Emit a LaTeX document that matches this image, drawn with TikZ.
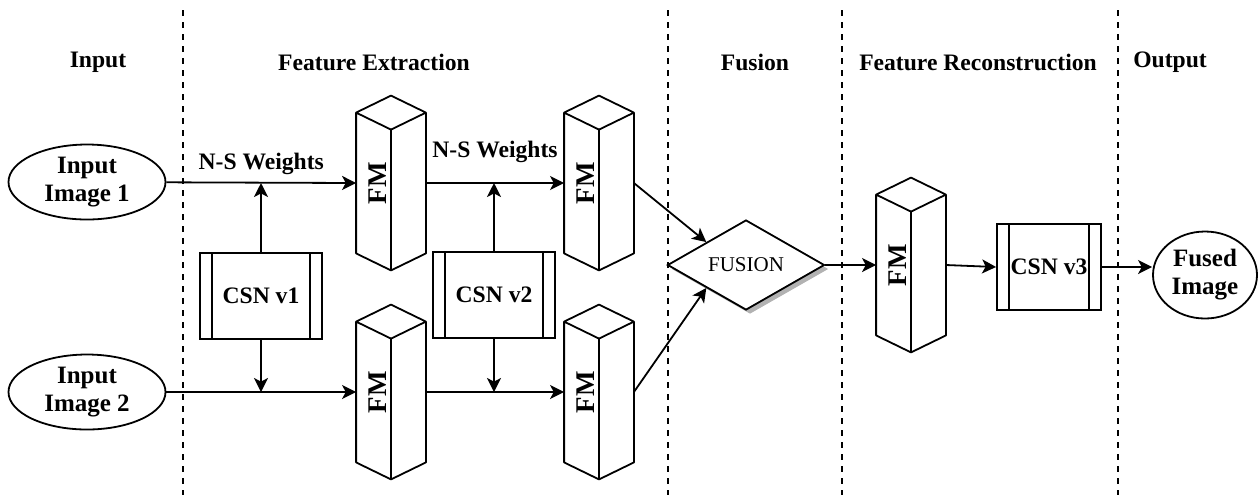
\documentclass[tikz,border=0pt]{standalone}
\usepackage{fontspec}
\setmainfont{Liberation Serif}
\usetikzlibrary{positioning,calc,arrows.meta,shapes.geometric,shadows}
\tikzset{
	line/.style={draw=black,line width=0.9pt},
	arr/.style={line,-{Stealth[length=7pt,width=7pt,inset=1.8pt]}},
	sep/.style={draw=black,line width=0.8pt,dash pattern=on 3pt off 3pt},
	head/.style={font=\fontsize{11.8}{13}\selectfont\bfseries},
	io/.style={ellipse,draw,line width=0.9pt,inner sep=0pt,align=center,
		font=\fontsize{12.5}{14}\selectfont\bfseries},
	csn/.style={rectangle,draw,line width=0.9pt,minimum width=61pt,minimum height=43pt,
		font=\fontsize{11.8}{14}\selectfont\bfseries,
		path picture={\draw[line width=0.9pt]
			([xshift=6pt]path picture bounding box.north west) -- ([xshift=6pt]path picture bounding box.south west)
			([xshift=-6pt]path picture bounding box.north east) -- ([xshift=-6pt]path picture bounding box.south east);}},
	fm/.style={rectangle,minimum width=34.5pt,minimum height=87pt,inner sep=0pt},
	fuse/.style={diamond,draw,fill=white,line width=0.9pt,inner sep=0pt,aspect=1.75,
		minimum width=78.5pt,minimum height=45pt,font=\fontsize{10.5}{12}\selectfont,
		drop shadow={shadow xshift=2pt,shadow yshift=-2pt,fill=black!30,opacity=1}},
	wlabel/.style={font=\fontsize{11.8}{14}\selectfont\bfseries},
}

\begin{document}
\begin{tikzpicture}[x=0.5pt,y=-0.5pt]
	\useasboundingbox (0,0) rectangle (1258,495);

	% stage separators and headers
	\foreach \sx in {183,668,842,1118}
	\draw[sep] (\sx,10) -- (\sx,495);
	\foreach \hx/\htext in {98/Input,374/Feature Extraction,755/Fusion,978/Feature Reconstruction,1170/Output}
	\node[head] at (\hx,62) {\htext};

	% inputs and output
	\node[io,minimum width=78.5pt,minimum height=37.5pt] (in1) at (87,182) {Input\\Image 1};
	\node[io,minimum width=78.5pt,minimum height=37.5pt] (in2) at (87,392) {Input\\Image 2};
	\node[io,minimum width=52pt,minimum height=43.5pt] (out) at (1205,275) {Fused\\Image};

	% feature maps
	\node[fm] (fmA) at (391,183) {};
	\node[fm] (fmB) at (599,183) {};
	\node[fm] (fmC) at (391,392) {};
	\node[fm] (fmD) at (599,392) {};
	\node[fm] (fmE) at (911,265) {};
	\foreach \b in {fmA,fmB,fmC,fmD,fmE}{
		\draw[line,line join=round] (\b.north) -- ([yshift=-8.5pt]\b.north east) -- ([yshift=8.5pt]\b.south east)
			-- (\b.south) -- ([yshift=8.5pt]\b.south west) -- ([yshift=-8.5pt]\b.north west) -- cycle
			([yshift=-8.5pt]\b.north west) -- ([yshift=-17pt]\b.north) -- ([yshift=-8.5pt]\b.north east)
			([yshift=-17pt]\b.north) -- (\b.south);
		\node[rotate=90,font=\fontsize{13.5}{15}\selectfont\bfseries] at ([xshift=-6.5pt]\b.center) {FM};
	}

	% networks
	\node[csn] (csn1) at (261,296) {CSN v1};
	\node[csn] (csn2) at (494,295) {CSN v2};
	\node[csn,minimum width=52pt] (csn3) at (1049,267) {CSN v3};
	\node[fuse] (fus) at (746,265) {FUSION};

	% connections
	\draw[arr] (in1) -- node[wlabel,above] {N-S Weights} (fmA.west);
	\draw[arr] (fmA.east) -- node[wlabel,above=6.5pt] {N-S Weights} (fmB.west);
	\draw[arr] (in2) -- (fmC.west);
	\draw[arr] (fmC.east) -- (fmD.west);
	\draw[arr] (csn1.north) -- (csn1.north |- fmA.west);
	\draw[arr] (csn1.south) -- (csn1.south |- fmC.west);
	\draw[arr] (csn2.north) -- (csn2.north |- fmA.east);
	\draw[arr] (csn2.south) -- (csn2.south |- fmC.east);
	\draw[arr] (fmB.east) -- (fus.north west);
	\draw[arr] (fmD.east) -- (fus.south west);
	\draw[arr] (fus.east) -- (fmE.west);
	\draw[arr] (fmE.east) -- (csn3.west);
	\draw[arr] (csn3.east) -- (csn3.east -| out.west);
\end{tikzpicture}
\end{document}
